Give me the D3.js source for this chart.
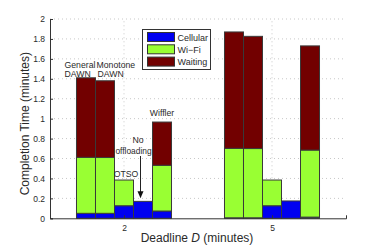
<!DOCTYPE html>
<html><head><meta charset="utf-8">
<script src="https://cdn.jsdelivr.net/npm/d3@7"></script>
<style>body{margin:0;background:#fff}svg{display:block;font-family:"Liberation Sans",Arial,sans-serif}</style>
</head><body>
<svg id="c" width="382" height="246"></svg>
<script>
const deadlines = [2, 5];
const methods = ["General DAWN", "Monotone DAWN", "OTSO", "No offloading", "Wiffler"];
const seriesNames = ["Cellular", "Wi\u2212Fi", "Waiting"];
// values per deadline, per method
const cellular = [[0.05, 0.05, 0.126, 0.17, 0.073], [0.005, 0.005, 0.126, 0.174, 0.012]];
const wifi     = [[0.562, 0.56, 0.258, 0, 0.459], [0.697, 0.695, 0.258, 0, 0.673]];
const waiting  = [[0.798, 0.77, 0, 0, 0.434], [1.168, 1.126, 0, 0, 1.045]];
const yTicks = [0, 0.2, 0.4, 0.6, 0.8, 1, 1.2, 1.4, 1.6, 1.8, 2];
const colors = ["#0000f0", "#99ff33", "#720000"];
const txt = "#2a2a2a";

const svg = d3.select("#c");
const x = d3.scaleLinear().domain([0.5, 6.5]).range([50, 346]);
const y = d3.scaleLinear().domain([0, 2]).range([218.3, 19]);
const halfW = 0.963;
const inner = d3.scaleBand().domain(methods).range([x(-halfW) - x(0), x(halfW) - x(0)]).padding(0);

// grid
const g = svg.append("g");
g.selectAll(".hg").data(yTicks.slice(1)).join("line")
  .attr("x1", x(0.5)).attr("x2", x(6.5)).attr("y1", d => y(d)).attr("y2", d => y(d))
  .attr("stroke", "#c8c8c8").attr("stroke-width", 1).attr("stroke-dasharray", "1,3");
g.selectAll(".vg").data(deadlines).join("line")
  .attr("x1", d => x(d)).attr("x2", d => x(d)).attr("y1", y(0)).attr("y2", y(2))
  .attr("stroke", "#c8c8c8").attr("stroke-width", 1).attr("stroke-dasharray", "1,3");

// bars
const rows = [];
deadlines.forEach((dl, i) => methods.forEach((m, j) => rows.push({dl, m, s0: cellular[i][j], s1: wifi[i][j], s2: waiting[i][j]})));
const stack = d3.stack().keys(["s0", "s1", "s2"]);
const layers = stack(rows);
layers.forEach((layer, k) => {
  svg.append("g").selectAll("rect").data(layer.filter(d => d[1] - d[0] > 0)).join("rect")
    .attr("x", d => x(d.data.dl) + inner(d.data.m))
    .attr("width", inner.bandwidth())
    .attr("y", d => y(d[1]))
    .attr("height", d => y(d[0]) - y(d[1]))
    .attr("fill", colors[k]).attr("stroke", "#3a3a3a").attr("stroke-width", 1);
});

// axes
const yAxis = d3.axisLeft(y).tickValues(yTicks).tickSize(-3).tickPadding(5).tickFormat(d3.format("~g"));
const ya = svg.append("g").attr("transform", `translate(${x(0.5)},0)`).call(yAxis);
const xAxis = d3.axisBottom(x).tickValues(deadlines).tickSize(-3).tickPadding(7).tickFormat(d3.format("d"));
const xa = svg.append("g").attr("transform", `translate(0,${y(0)})`).call(xAxis);
[ya, xa].forEach(a => {
  a.select(".domain").attr("stroke", "#333");
  a.selectAll(".tick line").attr("stroke", "#333");
  a.selectAll("text").attr("font-size", 8.5).attr("fill", txt).attr("font-family", "Liberation Sans, Arial, sans-serif");
});

// axis labels
svg.append("text").attr("x", 197).attr("y", 242).attr("text-anchor", "middle")
  .attr("font-size", 12).attr("fill", txt)
  .call(t => { t.append("tspan").text("Deadline "); t.append("tspan").attr("font-style", "italic").text("D"); t.append("tspan").text(" (minutes)"); });
svg.append("text").attr("transform", `translate(29,${(y(0) + y(2)) / 2 + 5}) rotate(-90)`).attr("text-anchor", "middle")
  .attr("font-size", 12).attr("fill", txt).text("Completion Time (minutes)");

// annotations
const bx = (dl, m) => x(dl) + inner(m);
const tot = j => cellular[0][j] + wifi[0][j] + waiting[0][j];
const ann = svg.append("g").attr("font-size", 8.7).attr("fill", txt);
ann.append("text").attr("x", bx(2, methods[0]) - 12).attr("y", y(tot(0)) - 10).text("General");
ann.append("text").attr("x", bx(2, methods[0]) - 12).attr("y", y(tot(0)) - 1).text("DAWN");
ann.append("text").attr("x", bx(2, methods[1]) + 1).attr("y", y(tot(0)) - 10).text("Monotone");
ann.append("text").attr("x", bx(2, methods[1]) + 2).attr("y", y(tot(0)) - 1).text("DAWN");
ann.append("text").attr("x", bx(2, methods[2]) + inner.bandwidth() / 2 + 2).attr("y", y(tot(2)) - 3).attr("text-anchor", "middle").text("OTSO");
ann.append("text").attr("x", bx(2, methods[4]) + inner.bandwidth() / 2).attr("y", y(tot(4)) - 6).attr("text-anchor", "middle").text("Wiffler");
const ax = bx(2, methods[3]) + inner.bandwidth() / 2 - 2.5;
ann.append("text").attr("x", ax - 2.5).attr("y", 143).attr("text-anchor", "middle").text("No");
ann.append("text").attr("x", ax - 7).attr("y", 154).attr("font-size", 8.4).attr("text-anchor", "middle").text("offloading");
const atip = y(tot(3)) - 3;
svg.append("line").attr("x1", ax).attr("x2", ax).attr("y1", 156).attr("y2", atip - 5).attr("stroke", "#222").attr("stroke-width", 1);
svg.append("path").attr("d", `M${ax - 3},${atip - 7}L${ax + 3},${atip - 7}L${ax},${atip}Z`).attr("fill", "#111");

// legend
const lg = svg.append("g").attr("transform", "translate(142.5,29.5)");
lg.append("rect").attr("width", 68).attr("height", 40).attr("fill", "#fff").attr("stroke", "#333").attr("stroke-width", 1);
seriesNames.forEach((n, i) => {
  lg.append("rect").attr("x", 5).attr("y", 3 + i * 12.3).attr("width", 27).attr("height", 9).attr("fill", colors[i]).attr("stroke", "#333");
  lg.append("text").attr("x", 35).attr("y", 11 + i * 12.3).attr("font-size", 9).attr("fill", txt).text(n);
});
</script>
</body></html>
